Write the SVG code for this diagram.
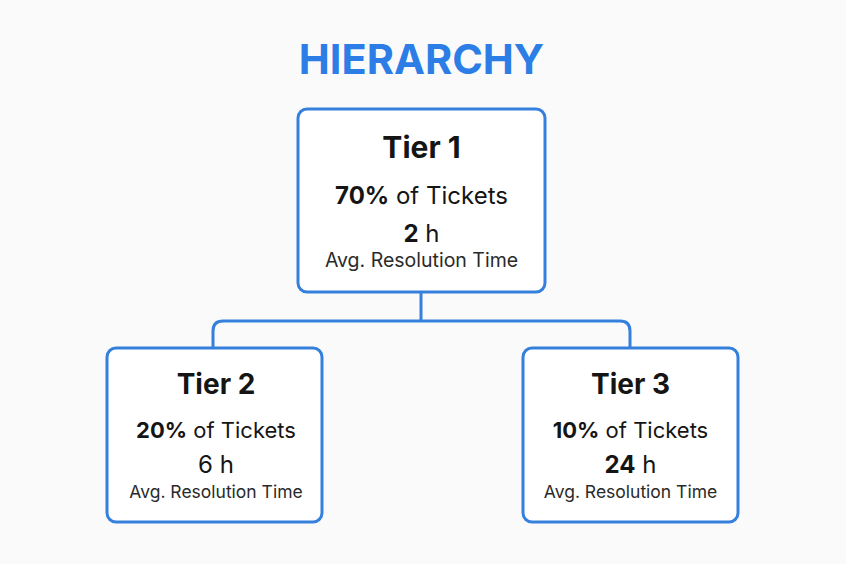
<svg xmlns="http://www.w3.org/2000/svg" width="846" height="564" viewBox="0 0 846 564">
<style>
.bg{fill:#fafafb}
.box{fill:#ffffff;stroke:#3580dc;stroke-width:3}
.conn{fill:none;stroke:#3580dc;stroke-width:3}
text{font-family:Inter,"Liberation Sans",sans-serif;fill:#151515;text-anchor:middle}
.title{font-size:41.5px;font-weight:700;fill:#2c7ee6}
.h1{font-size:30px;font-weight:700}
.h2{font-size:28px;font-weight:700}
.pct1{font-size:24px}
.pct2{font-size:22px}
.b{font-weight:700}
.avg1{font-size:19.5px;fill:#2a2a2a}
.avg2{font-size:17.5px;fill:#2a2a2a}
</style>
<rect class="bg" x="0" y="0" width="846" height="564"/>
<text class="title" x="421.5" y="74">HIERARCHY</text>
<g id="connectors">
<path class="conn" d="M421,293 V321 M213,348 V331 Q213,321 223,321 H620 Q630,321 630,331 V348"/>
</g>
<g id="tier1">
<rect class="box" x="298" y="109" width="247" height="183" rx="9"/>
<text class="h1" x="421.5" y="158">Tier 1</text>
<text class="pct1" x="421.5" y="204"><tspan class="b">70%</tspan> of Tickets</text>
<text class="pct1" x="421.5" y="242"><tspan class="b">2</tspan> h</text>
<text class="avg1" x="421.5" y="267">Avg. Resolution Time</text>
</g>
<g id="tier2">
<rect class="box" x="107" y="348" width="215" height="174" rx="9"/>
<text class="h2" x="216" y="394">Tier 2</text>
<text class="pct2" x="216" y="438"><tspan class="b">20%</tspan> of Tickets</text>
<text class="pct1" x="216" y="473">6 h</text>
<text class="avg2" x="216" y="498">Avg. Resolution Time</text>
</g>
<g id="tier3">
<rect class="box" x="523" y="348" width="215" height="174" rx="9"/>
<text class="h2" x="630.5" y="394">Tier 3</text>
<text class="pct2" x="630.5" y="438"><tspan class="b">10%</tspan> of Tickets</text>
<text class="pct1" x="630.5" y="473"><tspan class="b">24</tspan> h</text>
<text class="avg2" x="630.5" y="498">Avg. Resolution Time</text>
</g>
</svg>
